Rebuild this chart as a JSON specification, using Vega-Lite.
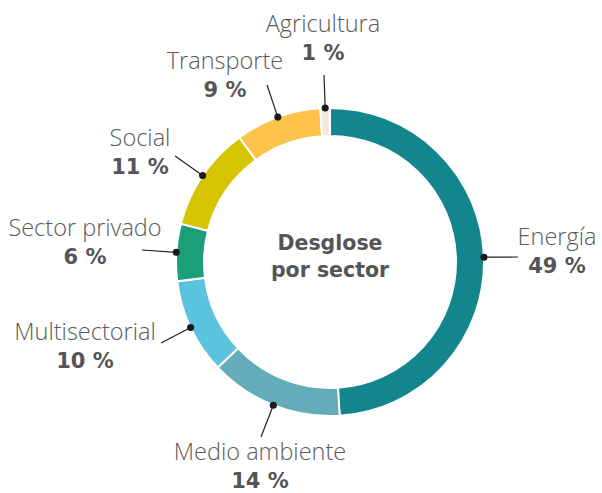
{
  "$schema": "https://vega.github.io/schema/vega-lite/v6.json",
  "width": 544,
  "height": 462,
  "autosize": "none",
  "padding": {"left": 58, "top": 31, "right": 0, "bottom": 0},
  "background": "white",
  "config": {"view": {"stroke": null}},
  "datasets": {
    "sectors": [
      {"sector": "Energía", "value": 49, "ord": 1, "pct": "49 %", "dx": 0.9995, "dy": 0.0314, "lx": 1.2208, "ly": 0.0325, "tx": 1.474, "ty": 0.1104},
      {"sector": "Medio ambiente", "value": 14, "ord": 2, "pct": "14 %", "dx": -0.3681, "dy": -0.9298, "lx": -0.448, "ly": -1.136, "tx": -0.4545, "ty": -1.2857},
      {"sector": "Multisectorial", "value": 10, "ord": 3, "pct": "10 %", "dx": -0.9048, "dy": -0.4258, "lx": -1.097, "ly": -0.526, "tx": -1.5909, "ty": -0.5065},
      {"sector": "Sector privado", "value": 6, "ord": 4, "pct": "6 %", "dx": -0.998, "dy": 0.0628, "lx": -1.221, "ly": 0.078, "tx": -1.5909, "ty": 0.1688},
      {"sector": "Social", "value": 11, "ord": 5, "pct": "11 %", "dx": -0.8271, "dy": 0.5621, "lx": -1.006, "ly": 0.688, "tx": -1.2338, "ty": 0.7532},
      {"sector": "Transporte", "value": 9, "ord": 6, "pct": "9 %", "dx": -0.3387, "dy": 0.9409, "lx": -0.409, "ly": 1.149, "tx": -0.6818, "ty": 1.2532},
      {"sector": "Agricultura", "value": 1, "ord": 7, "pct": "1 %", "dx": -0.0314, "dy": 0.9995, "lx": -0.039, "ly": 1.214, "tx": -0.0455, "ty": 1.4935}
    ],
    "center": [
      {"line": "Desglose", "x": 0, "y": 0.0779},
      {"line": "por sector", "x": 0, "y": -0.0974}
    ]
  },
  "layer": [
    {
      "data": {"name": "sectors"},
      "mark": {"type": "arc", "outerRadius": 154, "innerRadius": 126, "stroke": "white", "strokeWidth": 2},
      "encoding": {
        "theta": {"field": "value", "type": "quantitative", "stack": true},
        "order": {"field": "ord", "type": "quantitative"},
        "color": {
          "field": "sector",
          "type": "nominal",
          "legend": null,
          "scale": {
            "domain": ["Energía", "Medio ambiente", "Multisectorial", "Sector privado", "Social", "Transporte", "Agricultura"],
            "range": ["#13858c", "#62adb9", "#5bc2df", "#1c9f76", "#d7c400", "#fdc24a", "#f3e8de"]
          }
        }
      }
    },
    {
      "data": {"name": "sectors"},
      "mark": {"type": "rule", "color": "#222222", "strokeWidth": 1.2},
      "encoding": {
        "x": {"field": "dx", "type": "quantitative", "scale": {"domain": [-1.76623, 1.76623], "nice": false, "zero": false}, "axis": null},
        "y": {"field": "dy", "type": "quantitative", "scale": {"domain": [-1.5, 1.5], "nice": false, "zero": false}, "axis": null},
        "x2": {"field": "lx"},
        "y2": {"field": "ly"}
      }
    },
    {
      "data": {"name": "sectors"},
      "mark": {"type": "point", "filled": true, "color": "#1a1a1a", "size": 50, "opacity": 1},
      "encoding": {
        "x": {"field": "dx", "type": "quantitative", "scale": {"domain": [-1.76623, 1.76623], "nice": false, "zero": false}, "axis": null},
        "y": {"field": "dy", "type": "quantitative", "scale": {"domain": [-1.5, 1.5], "nice": false, "zero": false}, "axis": null}
      }
    },
    {
      "data": {"name": "sectors"},
      "mark": {"type": "text", "align": "center", "baseline": "alphabetic", "font": "Open Sans", "fontWeight": 300, "fontSize": 23.5, "color": "#5a5a5a"},
      "encoding": {
        "x": {"field": "tx", "type": "quantitative", "scale": {"domain": [-1.76623, 1.76623], "nice": false, "zero": false}, "axis": null},
        "y": {"field": "ty", "type": "quantitative", "scale": {"domain": [-1.5, 1.5], "nice": false, "zero": false}, "axis": null},
        "text": {"field": "sector"}
      }
    },
    {
      "data": {"name": "sectors"},
      "mark": {"type": "text", "align": "center", "baseline": "alphabetic", "dy": 28, "font": "DejaVu Sans", "fontWeight": "bold", "fontSize": 21, "color": "#555555"},
      "encoding": {
        "x": {"field": "tx", "type": "quantitative", "scale": {"domain": [-1.76623, 1.76623], "nice": false, "zero": false}, "axis": null},
        "y": {"field": "ty", "type": "quantitative", "scale": {"domain": [-1.5, 1.5], "nice": false, "zero": false}, "axis": null},
        "text": {"field": "pct"}
      }
    },
    {
      "data": {"name": "center"},
      "mark": {"type": "text", "align": "center", "baseline": "alphabetic", "font": "DejaVu Sans", "fontWeight": "bold", "fontSize": 20.5, "color": "#555555"},
      "encoding": {
        "x": {"field": "x", "type": "quantitative", "scale": {"domain": [-1.76623, 1.76623], "nice": false, "zero": false}, "axis": null},
        "y": {"field": "y", "type": "quantitative", "scale": {"domain": [-1.5, 1.5], "nice": false, "zero": false}, "axis": null},
        "text": {"field": "line"}
      }
    }
  ]
}
